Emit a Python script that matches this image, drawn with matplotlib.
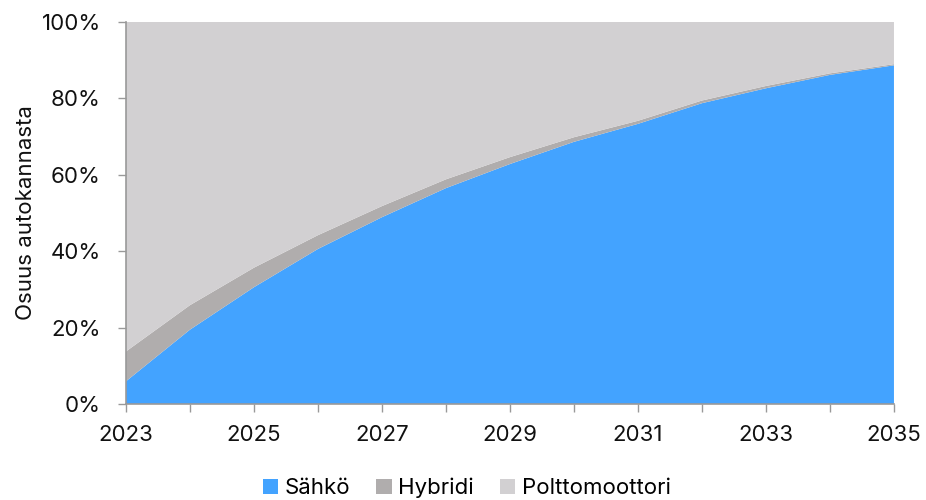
import matplotlib
matplotlib.use('Agg')
import matplotlib.pyplot as plt
from matplotlib.ticker import PercentFormatter, MultipleLocator

plt.rcParams['font.family'] = ['Inter', 'DejaVu Sans']

vuodet = list(range(2023, 2036))
sahko = [6.0, 19.5, 30.6, 40.6, 48.9, 56.5, 62.8, 68.6, 73.3, 78.7, 82.6, 86.1, 88.6]
hybridi = [7.8, 6.4, 5.1, 3.6, 2.9, 2.3, 1.8, 1.2, 0.8, 0.7, 0.6, 0.4, 0.3]
poltto = [100 - s - h for s, h in zip(sahko, hybridi)]
nimet = ['Sähkö', 'Hybridi', 'Polttomoottori']
varit = ['#43A3FF', '#B0ADAD', '#D2D0D2']

fig = plt.figure(figsize=(9.26, 5.0), dpi=100)
ax = fig.add_axes([0.136, 0.1914, 0.8294, 0.7652])

ax.stackplot(vuodet, sahko, hybridi, poltto, labels=nimet, colors=varit, linewidth=0)

ax.set_xlim(2023, 2035)
ax.set_ylim(0, 100)
ax.set_xticks(vuodet)
ax.set_xticklabels([str(v) if (v - 2023) % 2 == 0 else '' for v in vuodet])
ax.yaxis.set_major_locator(MultipleLocator(20))
ax.yaxis.set_major_formatter(PercentFormatter(decimals=0))

for s in ['top', 'right']:
    ax.spines[s].set_visible(False)
for s in ['left', 'bottom']:
    ax.spines[s].set_color('#999999')
    ax.spines[s].set_linewidth(1.2)
ax.tick_params(axis='both', colors='#999999', labelcolor='#111111', labelsize=16, length=6, width=1)
ax.tick_params(axis='y', pad=12)
ax.tick_params(axis='x', pad=9)
ax.set_ylabel('Osuus autokannasta', fontsize=16, color='#111111', labelpad=4)

ax.legend(loc='upper center', bbox_to_anchor=(0.444, -0.14), ncol=3, frameon=False,
          fontsize=16, handlelength=0.7, handleheight=0.7, handletextpad=0.3,
          columnspacing=1.15)

fig.savefig('out.png', dpi=100)
